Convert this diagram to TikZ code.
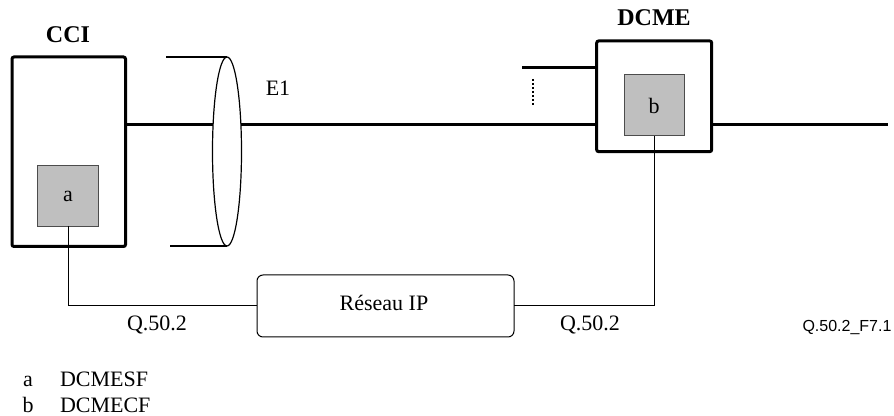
\documentclass[tikz,border=0pt]{standalone}
\usepackage{fontspec}
\setmainfont{Liberation Serif}
\newfontfamily\tagfont{Liberation Sans}
\usetikzlibrary{shapes.geometric,backgrounds}
\begin{document}
\begin{tikzpicture}[x=0.5pt,y=-0.5pt]
    \tikzstyle{every node}+=[inner sep=0pt,outer sep=0pt,font=\fontsize{11}{13}\selectfont]
    \tikzstyle{unitbox}=[draw,line width=1.5pt,rounded corners=1pt,fill=white]
    \tikzstyle{funcbox}=[draw=black!70,line width=0.5pt,fill=black!25]
    \tikzstyle{unitname}=[font=\fontsize{12}{14}\selectfont\bfseries]
    \tikzstyle{trunk}=[line width=1.5pt]
    \tikzstyle{sig}=[line width=0.5pt]
    \useasboundingbox (0,0) rectangle (894,416);
    % equipment
    \node (cci) [unitbox,minimum width=56.75pt,minimum height=94.75pt] at (68.75,151.75) {};
    \node (a) [funcbox,minimum width=30.5pt,minimum height=30.25pt] at (68,196) {a};
    \node (cciname) [unitname] at (68,35) {CCI};
    \node (dcme) [unitbox,minimum width=57.5pt,minimum height=55.35pt] at (654.2,96.3) {};
    \node (b) [funcbox,minimum width=30pt,minimum height=30.5pt] at (654,105.5) {b};
    \node (dcmename) [unitname] at (654,18) {DCME};
    % E1 bundle
    \node (bundle) [ellipse,draw,line width=0.6pt,fill=white,minimum width=14.5pt,minimum height=94.5pt] at (227,151.5) {};
    \node (e1) at (278,88) {E1};
    \coordinate (bundletop) at (166,57);
    \coordinate (bundlebot) at (170,246);
    \draw [line width=0.75pt] (bundletop) -- (bundle.north);
    \draw [line width=0.75pt] (bundlebot) -- (bundle.south);
    % IP network
    \node (reseau) [draw,line width=0.5pt,rounded corners=3pt,minimum width=128.5pt,minimum height=31pt] at (385.5,306) {};
    \node (reseaulabel) at (384,303) {Réseau IP};
    \node (qleft) at (157,325) {Q.50.2};
    \node (qright) at (590,325) {Q.50.2};
    \draw [sig] (a.south) |- (reseau.west);
    \draw [sig] (b.south) |- (reseau.east);
    % trunk lines
    \coordinate (lvl) at (0,125);
    \coordinate (far) at (888,125);
    \coordinate (stub) at (522,68);
    \coordinate (dtop) at (533,79);
    \coordinate (dbot) at (533,107);
    \begin{scope}[on background layer]
        \draw [trunk] (cci.east |- lvl) -- (dcme.west |- lvl);
    \end{scope}
    \draw [trunk] (dcme.east |- lvl) -- (far);
    \draw [trunk] (stub) -- (dcme.west |- stub);
    \draw [line width=1pt,dash pattern=on 1pt off 1pt] (dtop) -- (dbot);
    % key
    \node (tag) at (847,328) {\tagfont\fontsize{8}{10}\selectfont Q.50.2\_F7.1};
    \node (keya) [anchor=base] at (28,387) {a};
    \node (keyatext) [anchor=base west] at (60,387) {DCMESF};
    \node (keyb) [anchor=base] at (28,413) {b};
    \node (keybtext) [anchor=base west] at (60,413) {DCMECF};
\end{tikzpicture}
\end{document}
